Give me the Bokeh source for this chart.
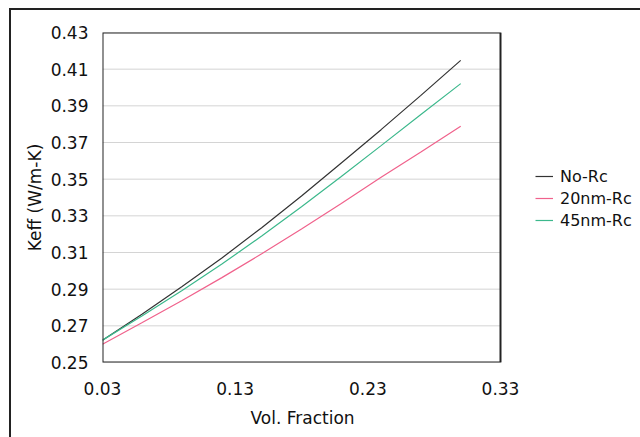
from bokeh.plotting import figure
from bokeh.models import (Legend, LegendItem, FixedTicker, NumeralTickFormatter, Range1d,
                          BoxAnnotation, Title)
from bokeh.embed import file_html
from bokeh.resources import INLINE

vol_fraction = [0.03, 0.06, 0.09, 0.12, 0.15, 0.18, 0.21, 0.24, 0.27, 0.30]
keff_no_rc = [0.2622, 0.2765, 0.2915, 0.3070, 0.3235, 0.3408, 0.3588, 0.3770, 0.3957, 0.4148]
keff_20nm = [0.2600, 0.2718, 0.2838, 0.2963, 0.3093, 0.3228, 0.3367, 0.3510, 0.3648, 0.3789]
keff_45nm = [0.2622, 0.2755, 0.2893, 0.3037, 0.3190, 0.3350, 0.3515, 0.3683, 0.3853, 0.4021]

x_ticks = [0.03, 0.13, 0.23, 0.33]
y_ticks = [0.25, 0.27, 0.29, 0.31, 0.33, 0.35, 0.37, 0.39, 0.41, 0.43]

FONT = "DejaVu Sans"

# plot area spans 102..501 px for 0.03..0.33; frame continues to the right edge
# so that the legend can sit inside it
x_lo, x_hi = x_ticks[0], x_ticks[-1]
px_per_unit = 398 / (x_hi - x_lo)
x_end = x_lo + (640 - 102) / px_per_unit

p = figure(width=640, height=437, output_backend="svg", toolbar_location=None,
           x_range=Range1d(x_lo, x_end), y_range=Range1d(y_ticks[0], y_ticks[-1]),
           min_border_left=102, min_border_right=0, min_border_top=32,
           min_border_bottom=75)

# outer chart-area border drawn via CSS background behind a transparent canvas border
p.styles = {"background": ("linear-gradient(#222,#222) 9px 8px / 2px 100% no-repeat, "
                           "linear-gradient(#222,#222) 9px 8px / 100% 2px no-repeat, white")}
p.background_fill_color = "white"
p.border_fill_alpha = 0
p.outline_line_color = None

p.xgrid.visible = False
p.ygrid.visible = False
# horizontal gridlines across the plot box only
p.segment(x0=[x_lo] * len(y_ticks), x1=[x_hi] * len(y_ticks), y0=y_ticks, y1=y_ticks,
          line_color="#d4d4d4", line_width=1)

p.xaxis.ticker = FixedTicker(ticks=x_ticks)
p.yaxis.ticker = FixedTicker(ticks=y_ticks)
p.xaxis.bounds = (x_lo, x_hi)
p.xaxis.formatter = NumeralTickFormatter(format="0.00")
p.yaxis.formatter = NumeralTickFormatter(format="0.00")
for ax in (p.xaxis, p.yaxis):
    ax.axis_line_color = None
    ax.major_tick_line_color = None
    ax.minor_tick_line_color = None
    ax.major_tick_out = 0
    ax.major_tick_in = 0
    ax.major_label_text_font = FONT
    ax.major_label_text_font_size = "17px"
    ax.major_label_text_color = "#111111"
    ax.axis_label_text_font = FONT
    ax.axis_label_text_font_size = "17px"
    ax.axis_label_text_font_style = "normal"
    ax.axis_label_text_color = "#111111"
p.xaxis.major_label_standoff = 19
p.yaxis.major_label_standoff = 14
p.yaxis.axis_label = "Keff (W/m-K)"
p.yaxis.axis_label_standoff = 3

# x-axis title, centred under the plot box (not under the wider frame)
p.add_layout(Title(text="Vol. Fraction", align="left", offset=148, standoff=17,
                   text_font=FONT, text_font_size="17px", text_font_style="normal",
                   text_color="#111111"), "below")

r1 = p.line(vol_fraction, keff_no_rc, line_color="#333333", line_width=1.2)
r2 = p.line(vol_fraction, keff_20nm, line_color="#f0628c", line_width=1.2)
r3 = p.line(vol_fraction, keff_45nm, line_color="#3cb88c", line_width=1.2)

# plot-area box
p.add_layout(BoxAnnotation(left=x_lo, right=x_hi, bottom=y_ticks[0], top=y_ticks[-1],
                           fill_alpha=0, line_color="#222222", line_alpha=1.0,
                           line_width=2))

legend = Legend(items=[LegendItem(label="No-Rc", renderers=[r1]),
                       LegendItem(label="20nm-Rc", renderers=[r2]),
                       LegendItem(label="45nm-Rc", renderers=[r3])],
                location=(433, 132), padding=0, margin=0, spacing=2,
                glyph_width=18, glyph_height=20, label_standoff=7,
                label_text_font=FONT, label_text_font_size="16px",
                label_text_color="#111111",
                background_fill_alpha=0, border_line_color=None)
p.add_layout(legend, "center")

open("out.html", "w").write(file_html(p, INLINE))
